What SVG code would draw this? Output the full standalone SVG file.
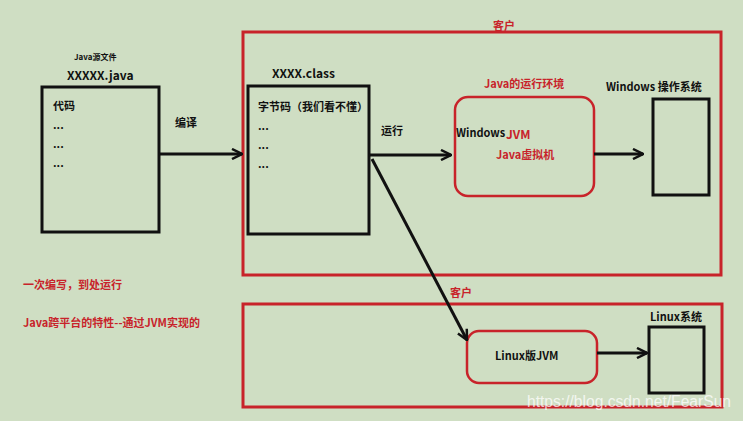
<svg xmlns="http://www.w3.org/2000/svg" width="743" height="421" viewBox="0 0 743 421">
<style>
text{font-family:"Noto Sans CJK SC","Liberation Sans",sans-serif;font-weight:bold;}
.k{fill:#111;font-size:11px;}
.r{fill:#c8232a;font-size:11px;}
.redbox{fill:none;stroke:#c8232a;stroke-width:3;}
.blk{fill:none;stroke:#111;stroke-width:3;}
.conn{fill:none;stroke:#111;stroke-width:3;}
</style>
<defs>
<marker id="ah" viewBox="0 0 12 12" refX="11" refY="6" markerWidth="12" markerHeight="12" markerUnits="userSpaceOnUse" orient="auto">
<path d="M1,1 L11,6 L1,11" fill="none" stroke="#111" stroke-width="2.5"/>
</marker>
</defs>
<rect width="743" height="421" fill="#cfdec3"/>
<g id="client1">
<rect class="redbox" x="243" y="32" width="478" height="243"/>
<text class="r" x="493" y="30">客户</text>
</g>
<g id="client2">
<rect class="redbox" x="243" y="304" width="479" height="103"/>
<text class="r" x="450" y="297">客户</text>
</g>
<g id="javasrc">
<text class="k" x="74" y="60" style="font-size:8px">Java源文件</text>
<text class="k" x="67" y="80" style="font-size:12px">XXXXX.java</text>
<rect class="blk" x="42" y="87" width="117" height="145"/>
<text class="k" x="53" y="110">代码</text>
<text class="k" x="53" y="129">...</text>
<text class="k" x="53" y="148">...</text>
<text class="k" x="53" y="167">...</text>
</g>
<g id="classfile">
<text class="k" x="272" y="78" style="font-size:12px">XXXX.class</text>
<rect class="blk" x="248" y="86" width="121" height="148"/>
<text class="k" x="258" y="111">字节码（我们看不懂）</text>
<text class="k" x="258" y="130">...</text>
<text class="k" x="258" y="149">...</text>
<text class="k" x="258" y="168">...</text>
</g>
<g id="winjvm">
<text class="r" x="484" y="88">Java的运行环境</text>
<rect x="455" y="97" width="139" height="99" rx="13" fill="none" stroke="#c8232a" stroke-width="2.5"/>
<text class="k" x="456" y="137">Windows</text>
<text class="r" x="506" y="139" style="font-size:12px">JVM</text>
<text class="r" x="496" y="159">Java虚拟机</text>
</g>
<g id="winos">
<text class="k" x="606" y="91">Windows 操作系统</text>
<rect class="blk" x="653" y="99" width="56" height="96"/>
</g>
<g id="linuxjvm">
<rect x="467" y="331" width="130" height="52" rx="12" fill="none" stroke="#c8232a" stroke-width="2.5"/>
<text class="k" x="495" y="360">Linux版JVM</text>
</g>
<g id="linuxos">
<text class="k" x="650" y="321">Linux系统</text>
<rect class="blk" x="649" y="327" width="55" height="66"/>
</g>
<g id="notes">
<text class="r" x="23" y="289">一次编写，到处运行</text>
<text class="r" x="23" y="327">Java跨平台的特性--通过JVM实现的</text>
</g>
<g id="connectors">
<line class="conn" x1="159" y1="154" x2="242" y2="154" marker-end="url(#ah)"/>
<text class="k" x="175" y="127">编译</text>
<line class="conn" x1="369" y1="155" x2="451" y2="155" marker-end="url(#ah)"/>
<text class="k" x="381" y="135">运行</text>
<line class="conn" x1="372" y1="159" x2="467" y2="340" marker-end="url(#ah)"/>
<line class="conn" x1="594" y1="154" x2="643" y2="154" marker-end="url(#ah)"/>
<line class="conn" x1="597" y1="353" x2="647" y2="353" marker-end="url(#ah)"/>
</g>
<text x="527" y="407" textLength="204" lengthAdjust="spacingAndGlyphs" style="font-family:'Liberation Sans',sans-serif;font-weight:normal;font-size:16px;fill:#ffffff;fill-opacity:0.75">https://blog.csdn.net/FearSun</text>
</svg>
